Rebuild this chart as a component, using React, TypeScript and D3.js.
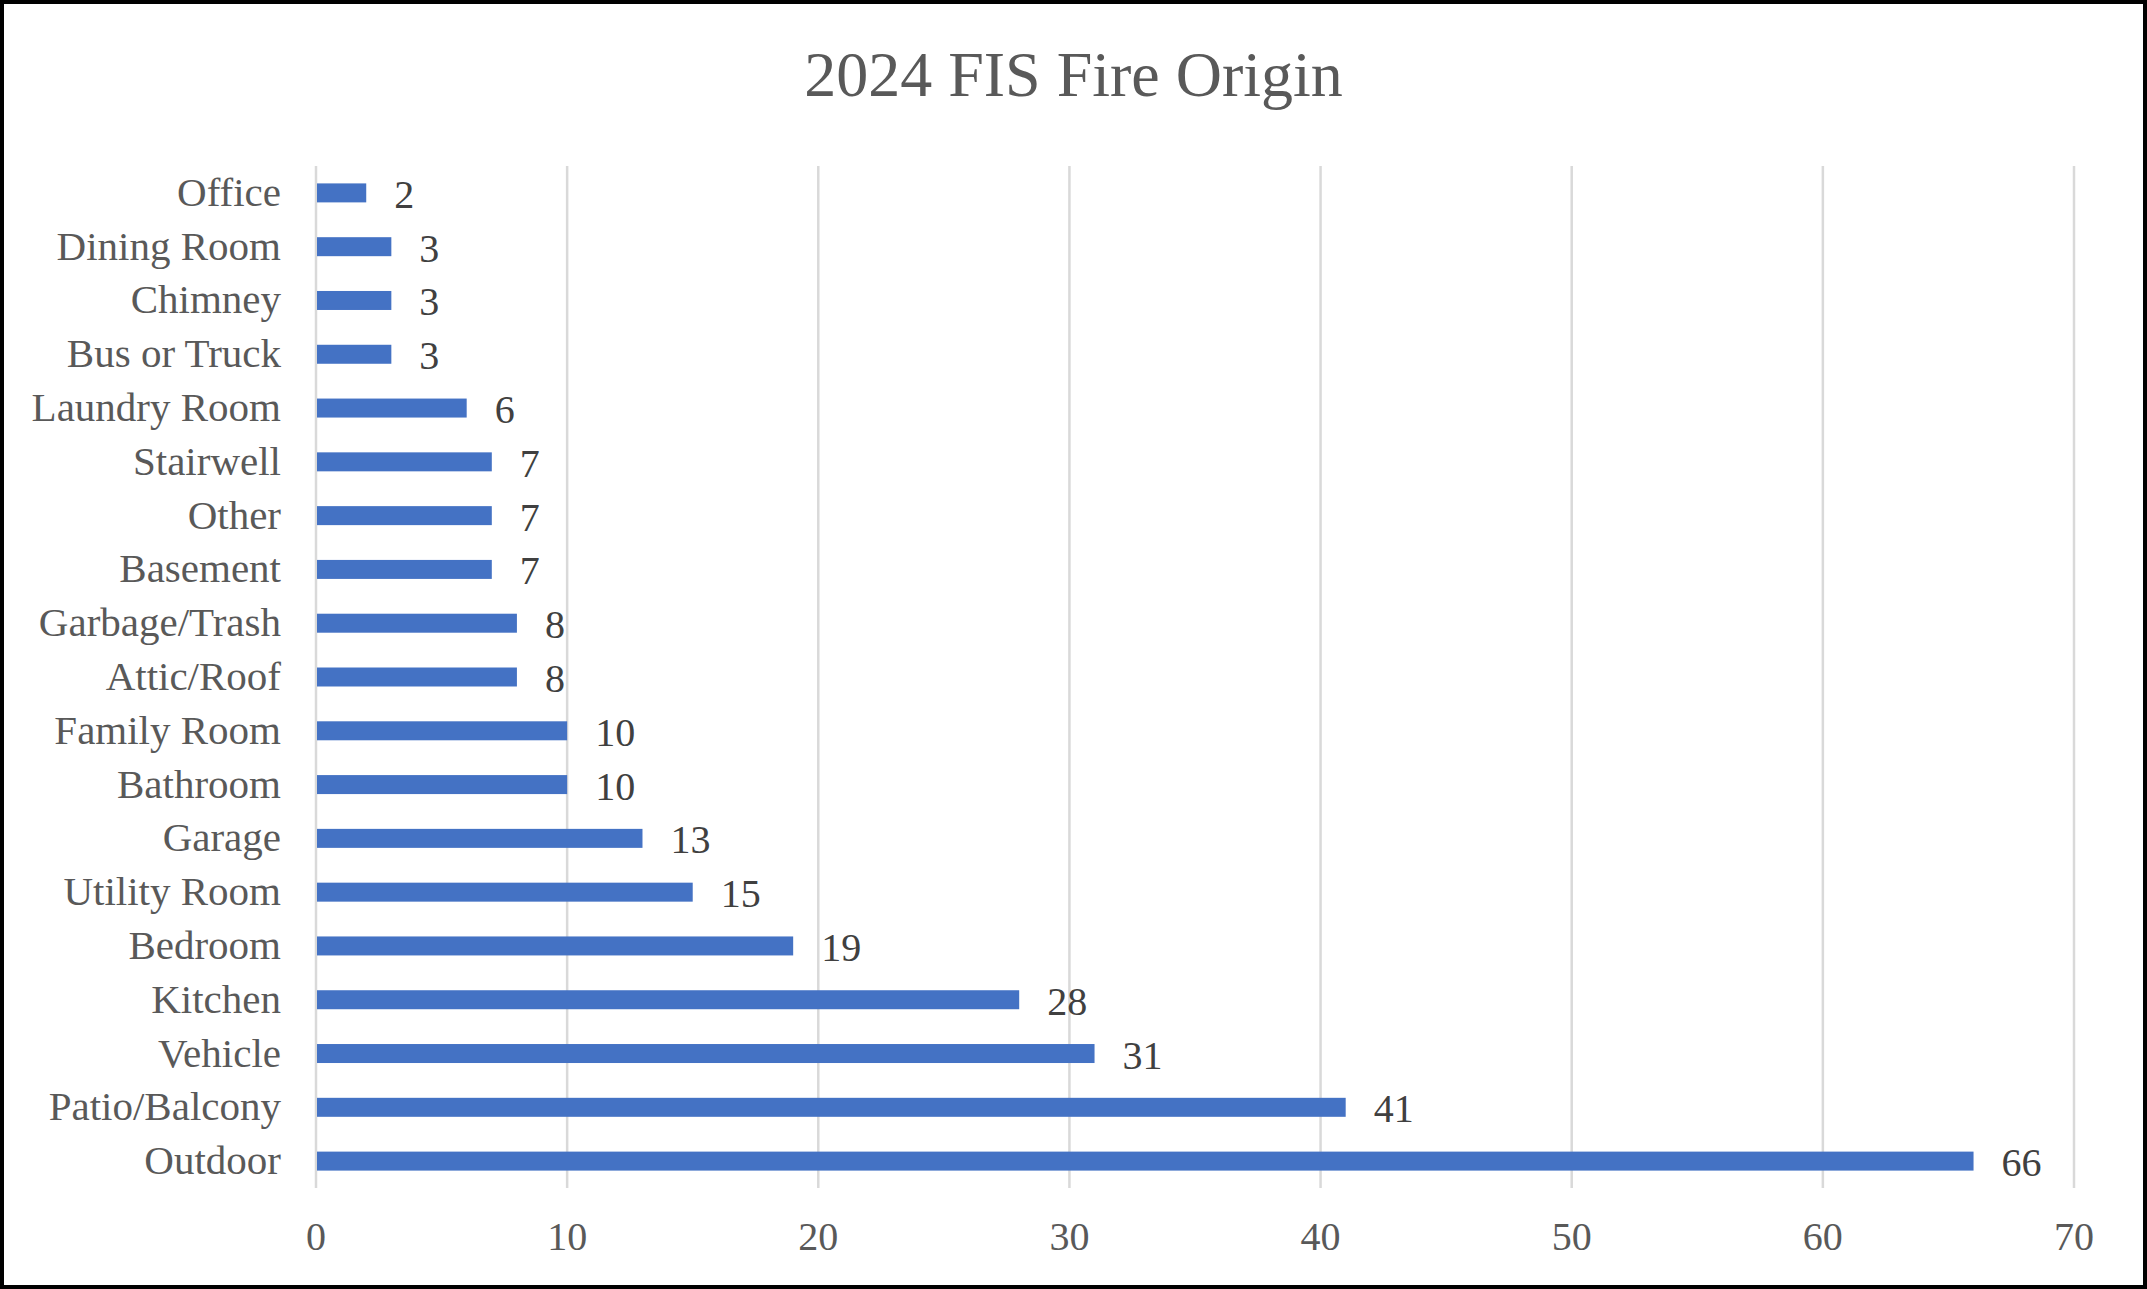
import React from "react";
import * as d3 from "d3";

const title = "2024 FIS Fire Origin";
const categories = [
  "Office", "Dining Room", "Chimney", "Bus or Truck", "Laundry Room", "Stairwell",
  "Other", "Basement", "Garbage/Trash", "Attic/Roof", "Family Room", "Bathroom",
  "Garage", "Utility Room", "Bedroom", "Kitchen", "Vehicle", "Patio/Balcony", "Outdoor",
];
const values = [2, 3, 3, 3, 6, 7, 7, 7, 8, 8, 10, 10, 13, 15, 19, 28, 31, 41, 66];
const xTicks = [0, 10, 20, 30, 40, 50, 60, 70];

const W = 2147;
const H = 1289;
const FONT = "'Liberation Serif', 'Times New Roman', serif";

export default function App() {
  const x = d3.scaleLinear().domain([0, 70]).range([316, 2074]);
  const pad = 0.647;
  const y = d3
    .scaleBand<string>()
    .domain(categories)
    .range([166, 1188])
    .paddingInner(pad)
    .paddingOuter(pad / 2);
  const bw = y.bandwidth();

  return (
    <div style={{ position: "absolute", left: 0, top: 0 }}>
      <svg width={W} height={H} viewBox={`0 0 ${W} ${H}`} style={{ display: "block" }}>
        <rect x={0} y={0} width={W} height={H} fill="#ffffff" />
        <text
          x={W / 2}
          y={96}
          textAnchor="middle"
          fontFamily={FONT}
          fontSize={64}
          fill="#595959"
        >
          {title}
        </text>
        {xTicks.map((t) => (
          <line
            key={"g" + t}
            x1={x(t)}
            x2={x(t)}
            y1={166}
            y2={1188}
            stroke="#d9d9d9"
            strokeWidth={2.5}
          />
        ))}
        {xTicks.map((t) => (
          <text
            key={"t" + t}
            x={x(t)}
            y={1250}
            textAnchor="middle"
            fontFamily={FONT}
            fontSize={40}
            fill="#595959"
          >
            {t}
          </text>
        ))}
        {categories.map((c, i) => {
          const yy = y(c) as number;
          const cy = yy + bw / 2;
          return (
            <g key={c}>
              <rect x={x(0) + 1} y={yy} width={x(values[i]) - x(0) - 1} height={bw} fill="#4472c4" />
              <text
                x={281}
                y={cy + 13}
                textAnchor="end"
                fontFamily={FONT}
                fontSize={41}
                fill="#595959"
              >
                {c}
              </text>
              <text
                x={x(values[i]) + 28}
                y={cy + 15}
                textAnchor="start"
                fontFamily={FONT}
                fontSize={40}
                fill="#404040"
              >
                {values[i]}
              </text>
            </g>
          );
        })}
        <rect x={2} y={2} width={W - 4} height={H - 4} fill="none" stroke="#000000" strokeWidth={4} />
      </svg>
    </div>
  );
}
